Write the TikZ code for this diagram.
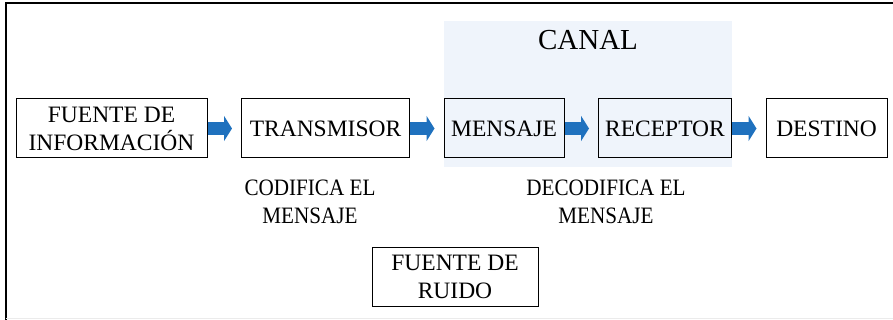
\documentclass[tikz,border=0pt]{standalone}
\usepackage{fontspec}
\setmainfont{Liberation Serif}
\usepackage{tikz}
\usetikzlibrary{arrows.meta,positioning,backgrounds}
\definecolor{flechaazul}{RGB}{31,113,190}
\definecolor{canalfondo}{RGB}{239,244,251}

\begin{document}
\begin{tikzpicture}[x=0.5pt,y=-0.5pt,node distance=16.75pt,
			font=\fontsize{11.75}{14}\selectfont]
				\tikzstyle{bloque}=
				[draw,line width=0.5pt,minimum height=29.5pt,inner sep=0pt,align=center]
				\tikzstyle{flecha}=
				[draw=flechaazul,line width=6.5pt,-{Triangle[length=4pt,width=12.5pt]},shorten >=4.5pt]

				\useasboundingbox (0,0) rectangle (893,320);

				\node[bloque,minimum width=95.5pt] (fuente) at (111.5,128.5) {FUENTE DE\\INFORMACI\'ON};
				\node[bloque,minimum width=84pt]   (trans)  [right=of fuente] {TRANSMISOR};
				\node[bloque,minimum width=60pt]   (mens)   [right=of trans]  {MENSAJE};
				\node[bloque,minimum width=66.5pt] (recep)  [right=of mens]   {RECEPTOR};
				\node[bloque,minimum width=60.5pt] (dest)   [right=of recep]  {DESTINO};

				\node[bloque,minimum width=83pt] (ruido) at (455,276.5) {FUENTE DE\\RUIDO};

				\node[align=center,xscale=0.9] (codif)   at (310,202) {CODIFICA EL\\MENSAJE};
				\node[align=center,xscale=0.9] (decodif) at (606,202) {DECODIFICA EL\\MENSAJE};

				\coordinate (canalarriba) at (0,21);
				\coordinate (canalabajo)  at (0,167);
				\node[font=\fontsize{14.5}{17}\selectfont] (canal) at (588,40) {CANAL};

				\begin{scope}[on background layer]
					\fill[canalfondo] (mens.west |- canalarriba) rectangle (recep.east |- canalabajo);
				\end{scope}

				\path 	(fuente) edge[flecha] (trans)
						(trans)  edge[flecha] (mens)
						(mens)   edge[flecha] (recep)
						(recep)  edge[flecha] (dest);

				\draw[line width=1pt] (893,3.5) -- (5.5,3.5) -- (5.5,320);
				\draw[black!8,line width=0.5pt] (5.5,318.5) -- (893,318.5);
			\end{tikzpicture}
\end{document}
